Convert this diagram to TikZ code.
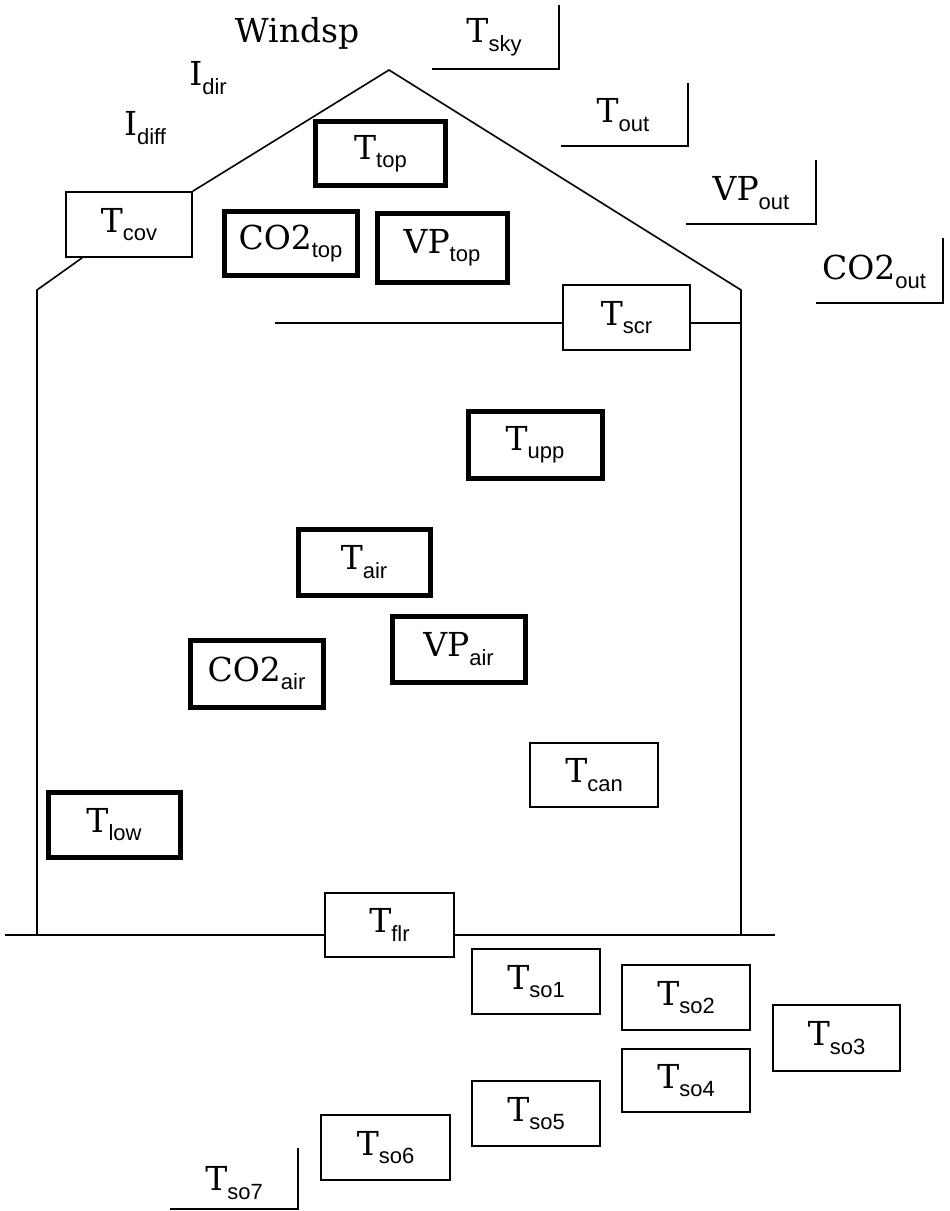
\documentclass[tikz,border=0pt]{standalone}
\usepackage{fontspec}
\newfontfamily\mainf{DejaVu Serif}
\newfontfamily\subf{Liberation Sans}
\newcommand\lb[2]{#1\raisebox{-8.5pt}{\subf\fontsize{22}{22}\selectfont #2}}
\begin{document}
\begin{tikzpicture}[x=1pt,y=-1pt,
  every node/.style={font=\mainf\fontsize{33}{38}\selectfont, inner sep=0pt},
  thinbox/.style={draw, line width=1.6pt, minimum width=127pt, minimum height=65pt},
  thickbox/.style={draw, line width=5pt, minimum width=130pt, minimum height=64pt},
  wall/.style={line width=1.6pt},
  lmark/.style={line width=1.6pt}]
\useasboundingbox (0,0) rectangle (950,1211);
% outside labels
\node (windsp) at (297,33) {Windsp};
\node (idir) at (208,78) {\lb{I}{dir}};
\node (idiff) at (145,128) {\lb{I}{diff}};
\node (tsky) at (494,37) {\lb{T}{sky}};
\node (tout) at (623,115) {\lb{T}{out}};
\node (vpout) at (751,193) {\lb{VP}{out}};
\node (co2out) at (874,272) {\lb{CO2}{out}};
\node (tso7) at (234,1183) {\lb{T}{so7}};
\draw[lmark] (432,69) -- (559,69) -- (559,5);
\draw[lmark] (561,146) -- (688,146) -- (688,83);
\draw[lmark] (686,224) -- (816,224) -- (816,160);
\draw[lmark] (816,303) -- (943,303) -- (943,238);
\draw[lmark] (170,1209) -- (298,1209) -- (298,1148);
% boxes
\node[thinbox, minimum width=126pt] (tcov) at (129,224.5) {\lb{T}{cov}};
\node[thickbox] (ttop) at (380.5,153.5) {\lb{T}{top}};
\node[thickbox, minimum width=133pt] (co2top) at (290.5,243.5) {\lb{CO2}{top}};
\node[thickbox, minimum width=130pt, minimum height=69pt] (vptop) at (442,247.5) {\lb{VP}{top}};
\node[thinbox] (tscr) at (626.5,317.5) {\lb{T}{scr}};
\node[thickbox, minimum width=134pt, minimum height=67pt] (tupp) at (535,444.5) {\lb{T}{upp}};
\node[thickbox, minimum width=132pt, minimum height=66pt] (tair) at (364,562) {\lb{T}{air}};
\node[thickbox, minimum width=133pt, minimum height=66pt] (vpair) at (458.5,649) {\lb{VP}{air}};
\node[thickbox, minimum width=133pt, minimum height=67pt] (co2air) at (256.5,673.5) {\lb{CO2}{air}};
\node[thinbox, minimum width=128pt, minimum height=64pt] (tcan) at (594,775) {\lb{T}{can}};
\node[thickbox, minimum width=132pt, minimum height=65pt] (tlow) at (114,824.5) {\lb{T}{low}};
\node[thinbox, minimum width=129pt, minimum height=64pt] (tflr) at (389.5,925) {\lb{T}{flr}};
\node[thinbox, minimum width=128pt] (tso1) at (536,981.5) {\lb{T}{so1}};
\node[thinbox, minimum width=128pt] (tso2) at (686,997.5) {\lb{T}{so2}};
\node[thinbox, minimum width=127pt, minimum height=66pt] (tso3) at (836.5,1038) {\lb{T}{so3}};
\node[thinbox, minimum width=128pt, minimum height=63pt] (tso4) at (686,1080.5) {\lb{T}{so4}};
\node[thinbox, minimum width=128pt] (tso5) at (536,1113.5) {\lb{T}{so5}};
\node[thinbox, minimum width=129pt] (tso6) at (385.5,1147.5) {\lb{T}{so6}};
% house outline
\coordinate (peak) at (389,70);
\coordinate (wlt) at (37,290);
\coordinate (wrt) at (741,290);
\coordinate (gl) at (5,935);
\coordinate (gr) at (775,935);
\coordinate (scrl) at (275,323);
\draw[wall] (tcov.north east) -- (peak) -- (wrt) -- (wrt |- gl);
\draw[wall] ([xshift=17pt]tcov.south west) -- (wlt) -- (wlt |- gl);
\draw[wall] (scrl) -- (scrl -| tscr.west);
\draw[wall] (scrl -| tscr.east) -- (scrl -| wrt);
\draw[wall] (gl) -- (gl -| tflr.west);
\draw[wall] (gl -| tflr.east) -- (gr);
\end{tikzpicture}
\end{document}
